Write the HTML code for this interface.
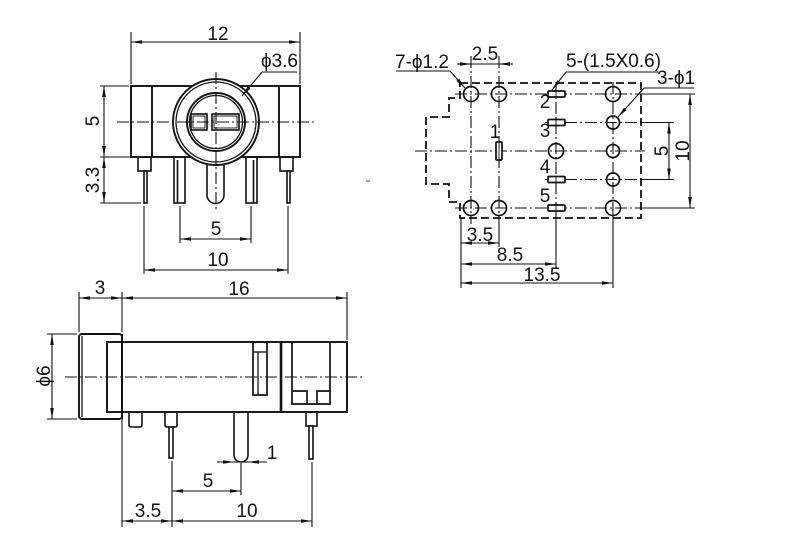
<!DOCTYPE html>
<html>
<head>
<meta charset="utf-8">
<style>
  html,body{margin:0;padding:0;background:#fff;}
  svg{display:block;}
  text{font-family:"Liberation Sans","DejaVu Sans",sans-serif;font-size:19px;fill:#111;}
</style>
</head>
<body>
<svg width="800" height="544" viewBox="0 0 800 544" xmlns="http://www.w3.org/2000/svg">
<defs>
  <marker id="ar" viewBox="0 0 11 5" refX="11" refY="2.5" markerWidth="11" markerHeight="5" orient="auto-start-reverse" markerUnits="userSpaceOnUse">
    <path d="M0,0.7 L11,2.5 L0,4.3 z" fill="#111"/>
  </marker>
</defs>
<rect width="800" height="544" fill="#fff"/>

<!-- ================= FRONT VIEW (top-left) ================= -->
<g stroke="#111" fill="none">
  <g stroke-width="1.1">
    <line x1="131" y1="32" x2="131" y2="84"/>
    <line x1="300" y1="32" x2="300" y2="84"/>
    <line x1="131" y1="42" x2="300" y2="42" marker-start="url(#ar)" marker-end="url(#ar)"/>
  </g>
  <g stroke-width="1.6" fill="#fff">
    <rect x="138" y="157" width="13" height="14"/>
    <rect x="144" y="171" width="3" height="32"/>
    <rect x="174" y="157" width="11" height="46"/>
    <line x1="177.5" y1="160" x2="177.5" y2="203"/>
    <path d="M207,157 V195 A8.5,8.5 0 0 0 224,195 V157"/>
    <rect x="246" y="157" width="11" height="46"/>
    <line x1="253.5" y1="160" x2="253.5" y2="203"/>
    <rect x="280" y="157" width="13" height="14"/>
    <rect x="287" y="171" width="3" height="32"/>
  </g>
  <rect x="131" y="86" width="169" height="71" stroke-width="1.9" fill="#fff"/>
  <line x1="152" y1="86" x2="152" y2="157" stroke-width="1.9"/>
  <line x1="279" y1="86" x2="279" y2="157" stroke-width="1.9"/>
  <circle cx="216" cy="122" r="43" stroke-width="1.9" fill="#fff"/>
  <circle cx="216" cy="122" r="40" stroke-width="1.3"/>
  <circle cx="216" cy="122" r="29" stroke-width="1.9"/>
  <circle cx="216" cy="122" r="26.5" stroke-width="1.3"/>
  <rect x="191" y="114" width="16" height="16" stroke-width="1.6"/>
  <rect x="193" y="116" width="12" height="12" stroke-width="0.9"/>
  <rect x="212" y="114" width="27" height="16" stroke-width="1.6"/>
  <rect x="214" y="116" width="23" height="12" stroke-width="0.9"/>
  <g stroke-width="1.1" stroke-dasharray="12 3 2 3">
    <line x1="117" y1="122" x2="317" y2="122"/>
    <line x1="216" y1="72" x2="216" y2="212"/>
  </g>
  <g stroke-width="1.1">
    <line x1="262" y1="72" x2="297" y2="72"/>
    <line x1="262" y1="72" x2="242" y2="96" marker-end="url(#ar)"/>
  </g>
  <g stroke-width="1.1">
    <line x1="100" y1="86" x2="129" y2="86"/>
    <line x1="100" y1="157" x2="131" y2="157"/>
    <line x1="100" y1="203" x2="141" y2="203"/>
    <line x1="104" y1="86" x2="104" y2="157" marker-start="url(#ar)" marker-end="url(#ar)"/>
    <line x1="104" y1="157" x2="104" y2="203" marker-start="url(#ar)" marker-end="url(#ar)"/>
  </g>
  <g stroke-width="1.1">
    <line x1="180" y1="206" x2="180" y2="243"/>
    <line x1="251" y1="206" x2="251" y2="243"/>
    <line x1="144" y1="206" x2="144" y2="274"/>
    <line x1="288" y1="206" x2="288" y2="274"/>
    <line x1="180" y1="239" x2="251" y2="239" marker-start="url(#ar)" marker-end="url(#ar)"/>
    <line x1="144" y1="270" x2="288" y2="270" marker-start="url(#ar)" marker-end="url(#ar)"/>
  </g>
</g>
<text x="218" y="40" text-anchor="middle">12</text>
<text x="298" y="67" text-anchor="end">ϕ3.6</text>
<text transform="translate(99,121) rotate(-90)" text-anchor="middle">5</text>
<text transform="translate(99,180) rotate(-90)" text-anchor="middle">3.3</text>
<text x="216" y="235" text-anchor="middle">5</text>
<text x="218" y="266" text-anchor="middle">10</text>

<line x1="366" y1="181" x2="370" y2="181" stroke="#333" stroke-width="1"/>

<!-- ================= PCB LAYOUT (top-right) ================= -->
<g stroke="#111" fill="none">
  <polygon points="460,83 641,83 641,218 460,218 460,202 449,202 449,184 426,184 426,117 449,117 449,98 460,98" stroke-width="1.8" stroke-dasharray="8 4"/>
  <g stroke-width="1.1" stroke-dasharray="12 3 2 3">
    <line x1="455" y1="94" x2="641" y2="94"/>
    <line x1="455" y1="208" x2="641" y2="208"/>
    <line x1="545" y1="122.5" x2="641" y2="122.5"/>
    <line x1="545" y1="179.5" x2="641" y2="179.5"/>
    <line x1="415" y1="151" x2="645" y2="151"/>
    <line x1="471" y1="56" x2="471" y2="224"/>
    <line x1="499" y1="56" x2="499" y2="224"/>
    <line x1="556" y1="82" x2="556" y2="214"/>
    <line x1="613" y1="82" x2="613" y2="214"/>
  </g>
  <g stroke-width="1.1">
    <line x1="641" y1="94" x2="695" y2="94"/>
    <line x1="641" y1="208" x2="695" y2="208"/>
    <line x1="641" y1="122.5" x2="674" y2="122.5"/>
    <line x1="641" y1="179.5" x2="674" y2="179.5"/>
    <line x1="690" y1="94" x2="690" y2="208" marker-start="url(#ar)" marker-end="url(#ar)"/>
    <line x1="669" y1="122.5" x2="669" y2="179.5" marker-start="url(#ar)" marker-end="url(#ar)"/>
    <line x1="461" y1="218" x2="461" y2="288"/>
    <line x1="499" y1="224" x2="499" y2="247"/>
    <line x1="556" y1="214" x2="556" y2="268"/>
    <line x1="613" y1="214" x2="613" y2="288"/>
    <line x1="461" y1="243" x2="499" y2="243" marker-start="url(#ar)" marker-end="url(#ar)"/>
    <line x1="461" y1="264" x2="556" y2="264" marker-start="url(#ar)" marker-end="url(#ar)"/>
    <line x1="461" y1="283" x2="613" y2="283" marker-start="url(#ar)" marker-end="url(#ar)"/>
    <line x1="457" y1="64" x2="471" y2="64" marker-end="url(#ar)"/>
    <line x1="471" y1="64" x2="499" y2="64"/>
    <line x1="513" y1="64" x2="499" y2="64" marker-end="url(#ar)"/>
    <line x1="396" y1="71" x2="450" y2="71"/>
    <line x1="450" y1="71" x2="465" y2="88" marker-end="url(#ar)"/>
    <line x1="566" y1="72" x2="658" y2="72"/>
    <line x1="566" y1="72" x2="552" y2="90" marker-end="url(#ar)"/>
    <line x1="644" y1="88" x2="694" y2="88"/>
    <line x1="644" y1="88" x2="618" y2="117" marker-end="url(#ar)"/>
  </g>
  <g stroke-width="1.7">
    <circle cx="471" cy="94" r="7.5"/>
    <circle cx="499" cy="94" r="7.5"/>
    <circle cx="471" cy="208" r="7.5"/>
    <circle cx="499" cy="208" r="7.5"/>
    <circle cx="556" cy="151" r="7.5"/>
    <circle cx="613" cy="94" r="7.5"/>
    <circle cx="613" cy="208" r="7.5"/>
    <circle cx="613" cy="122.5" r="6.5"/>
    <circle cx="613" cy="151" r="6.5"/>
    <circle cx="613" cy="179.5" r="6.5"/>
    <rect x="548" y="91" width="17" height="6" rx="1" fill="#fff"/>
    <rect x="548" y="119.5" width="17" height="6" rx="1" fill="#fff"/>
    <rect x="548" y="176.5" width="17" height="6" rx="1" fill="#fff"/>
    <rect x="548" y="205" width="17" height="6" rx="1" fill="#fff"/>
    <rect x="496" y="142" width="6" height="18" rx="1" fill="#fff"/>
  </g>
  <g stroke-width="0.9">
    <line x1="556" y1="91" x2="556" y2="97"/>
    <line x1="556" y1="119.5" x2="556" y2="125.5"/>
    <line x1="556" y1="176.5" x2="556" y2="182.5"/>
    <line x1="556" y1="205" x2="556" y2="211"/>
    <line x1="499" y1="142" x2="499" y2="160"/>
  </g>
</g>
<text x="395" y="68">7-ϕ1.2</text>
<text x="485" y="60" text-anchor="middle">2.5</text>
<text x="566" y="67">5-(1.5X0.6)</text>
<text x="657" y="84">3-ϕ1</text>
<text x="495" y="138" text-anchor="middle">1</text>
<text x="545" y="108" text-anchor="middle">2</text>
<text x="545" y="137" text-anchor="middle">3</text>
<text x="545" y="173" text-anchor="middle">4</text>
<text x="545" y="202" text-anchor="middle">5</text>
<text transform="translate(689,151) rotate(-90)" text-anchor="middle">10</text>
<text transform="translate(668,151) rotate(-90)" text-anchor="middle">5</text>
<text x="480" y="241" text-anchor="middle">3.5</text>
<text x="510" y="261" text-anchor="middle">8.5</text>
<text x="542" y="281" text-anchor="middle">13.5</text>

<!-- ================= SIDE VIEW (bottom-left) ================= -->
<g stroke="#111" fill="none">
  <g stroke-width="1.1">
    <line x1="79" y1="292" x2="79" y2="332"/>
    <line x1="122" y1="292" x2="122" y2="332"/>
    <line x1="347" y1="292" x2="347" y2="340"/>
    <line x1="79" y1="298" x2="122" y2="298" marker-start="url(#ar)" marker-end="url(#ar)"/>
    <line x1="122" y1="298" x2="347" y2="298" marker-start="url(#ar)" marker-end="url(#ar)"/>
  </g>
  <g stroke-width="1.6" fill="#fff">
    <path d="M129,412 V425 Q129,427 131,427 H140 Q142,427 142,425 V412"/>
    <path d="M165,412 V425 Q165,427 167,427 H175 Q177,427 177,425 V412"/>
    <rect x="169" y="427" width="4" height="31"/>
    <path d="M234,412 V455 A7,7 0 0 0 248,455 V412"/>
    <rect x="306" y="412" width="11" height="14"/>
    <rect x="309" y="426" width="4" height="33"/>
  </g>
  <rect x="107" y="342" width="240" height="70" stroke-width="1.9"/>
  <rect x="79" y="334" width="43" height="85" rx="3" stroke-width="1.9"/>
  <line x1="82" y1="336" x2="82" y2="417" stroke-width="1.3"/>
  <line x1="122" y1="334" x2="122" y2="419" stroke-width="1.9"/>
  <line x1="281" y1="342" x2="281" y2="412" stroke-width="2.6"/>
  <rect x="253" y="342" width="14" height="53" stroke-width="1.7"/>
  <line x1="253" y1="352" x2="267" y2="352" stroke-width="1.3"/>
  <line x1="258" y1="352" x2="258" y2="395" stroke-width="1.3"/>
  <path d="M292,342 V404 H330 V342" stroke-width="1.7"/>
  <path d="M292,391 H307 V404 M317,404 V391 H330" stroke-width="1.7"/>
  <line x1="65" y1="377" x2="365" y2="377" stroke-width="1.1" stroke-dasharray="12 3 2 3"/>
  <g stroke-width="1.1">
    <line x1="47" y1="334" x2="77" y2="334"/>
    <line x1="47" y1="419" x2="77" y2="419"/>
    <line x1="52" y1="334" x2="52" y2="419" marker-start="url(#ar)" marker-end="url(#ar)"/>
  </g>
  <g stroke-width="1.1">
    <line x1="122" y1="419" x2="122" y2="527"/>
    <line x1="172" y1="461" x2="172" y2="527"/>
    <line x1="312" y1="462" x2="312" y2="527"/>
    <line x1="241" y1="463" x2="241" y2="495"/>
    <line x1="217" y1="462" x2="234" y2="462" marker-end="url(#ar)"/>
    <line x1="234" y1="462" x2="248" y2="462"/>
    <line x1="267" y1="462" x2="248" y2="462" marker-end="url(#ar)"/>
    <line x1="172" y1="491" x2="241" y2="491" marker-start="url(#ar)" marker-end="url(#ar)"/>
    <line x1="122" y1="521" x2="172" y2="521" marker-start="url(#ar)" marker-end="url(#ar)"/>
    <line x1="172" y1="521" x2="312" y2="521" marker-start="url(#ar)" marker-end="url(#ar)"/>
  </g>
</g>
<text x="100" y="294" text-anchor="middle">3</text>
<text x="239" y="295" text-anchor="middle">16</text>
<text transform="translate(50,376) rotate(-90)" text-anchor="middle">ϕ6</text>
<text x="272" y="459" text-anchor="middle">1</text>
<text x="208" y="487" text-anchor="middle">5</text>
<text x="148" y="517" text-anchor="middle">3.5</text>
<text x="247" y="517" text-anchor="middle">10</text>
</svg>
</body>
</html>
